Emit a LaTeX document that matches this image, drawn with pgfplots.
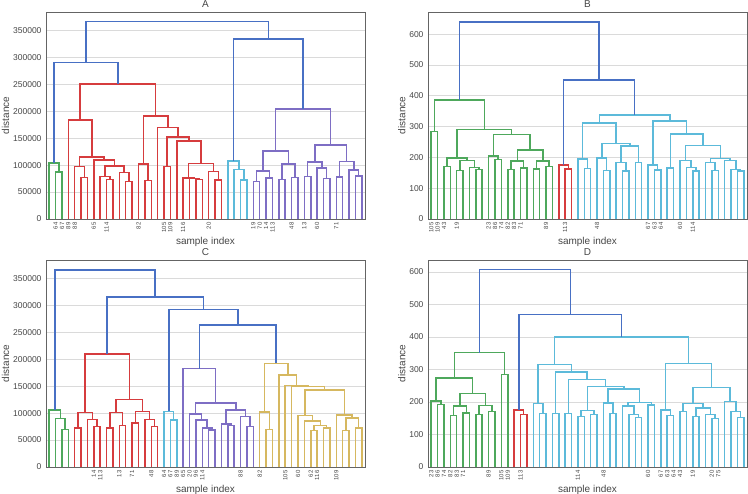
\documentclass[border=0pt]{standalone}
\usepackage{pgfplots}
\pgfplotsset{compat=1.18}
\usepackage{fontspec}
\setmainfont{Liberation Sans}
\definecolor{cblue}{RGB}{72,112,196}
\definecolor{cgreen}{RGB}{78,168,92}
\definecolor{cred}{RGB}{214,60,62}
\definecolor{ccyan}{RGB}{92,186,218}
\definecolor{cpurple}{RGB}{126,110,196}
\definecolor{cyellow}{RGB}{214,184,96}
\definecolor{gridgray}{RGB}{218,218,218}
\definecolor{framegray}{RGB}{100,100,100}
\definecolor{labgray}{RGB}{70,70,70}
\pgfplotsset{
 dendro/.style={
  scale only axis, width=319pt, height=207pt, anchor=south west,
  xmin=-0.5, xmax=49.5, ymin=0,
  xtick=\empty, minor xtick={0,...,49},
  grid=both, major grid style={color=gridgray, line width=0.7pt},
  minor grid style={color=gridgray, line width=0.7pt},
  major tick length=0pt, minor tick length=0pt, tick style={draw=none},
  scaled y ticks=false,
  axis line style={draw=framegray, line width=0.9pt},
  tick label style={font=\fontsize{8.5}{10}\selectfont, text=labgray},
  yticklabel style={xshift=-1pt},
  xlabel={sample index}, ylabel={distance},
  label style={font=\fontsize{10}{12}\selectfont, text=labgray},
  xlabel style={yshift=2pt},
  ylabel shift=-3pt,
  title style={font=\fontsize{10}{12}\selectfont, text=labgray, yshift=-2.5pt, inner sep=1pt},
  extra x tick style={grid=none, major tick length=0pt,
    tick label style={rotate=90, anchor=east, font=\fontsize{6}{7}\selectfont, text=labgray}},
  unbounded coords=jump,
  every axis plot/.append style={line width=1.5pt, mark=none},
 },
 bigy/.style={ymax=384000,
  ytick={0,50000,100000,150000,200000,250000,300000,350000},
  yticklabels={0,50000,100000,150000,200000,250000,300000,350000}},
 smally/.style={ytick={0,100,200,300,400,500,600},
  yticklabels={0,100,200,300,400,500,600}},
}
\begin{document}
\begin{tikzpicture}
\useasboundingbox (0,0) rectangle (748pt,494pt);
% ---------------- A ----------------
\begin{axis}[dendro, bigy, at={(46pt,275pt)}, title={A},
  extra x ticks={1,2,3,4,7,9,14,18,19,21,25,32,33,34,35,38,40,42,45},
  extra x tick labels={64,67,89,88,65,114,82,105,109,116,20,19,70,14,113,48,13,60,71}]
\addplot[cgreen] coordinates {
(1,0)(1,87000)(2,87000)(2,0)(0,nan)
(0,0)(0,104000)(1.5,104000)(1.5,87000)};
\addplot[cred] coordinates {
(5,0)(5,77000)(6,77000)(6,0)(0,nan)
(4,0)(4,97000)(5.5,97000)(5.5,77000)(0,nan)
(9,0)(9,73000)(10,73000)(10,0)(0,nan)
(8,0)(8,79000)(9.5,79000)(9.5,73000)(0,nan)
(12,0)(12,70000)(13,70000)(13,0)(0,nan)
(11,0)(11,86000)(12.5,86000)(12.5,70000)(0,nan)
(8.75,79000)(8.75,98000)(11.75,98000)(11.75,86000)(0,nan)
(7,0)(7,109000)(10.25,109000)(10.25,98000)(0,nan)
(4.75,97000)(4.75,115000)(8.625,115000)(8.625,109000)(0,nan)
(3,0)(3,184000)(6.6875,184000)(6.6875,115000)(0,nan)
(15,0)(15,71000)(16,71000)(16,0)(0,nan)
(14,0)(14,102000)(15.5,102000)(15.5,71000)(0,nan)
(18,0)(18,97000)(19,97000)(19,0)(0,nan)
(23,0)(23,73000)(24,73000)(24,0)(0,nan)
(22,0)(22,75000)(23.5,75000)(23.5,73000)(0,nan)
(21,0)(21,76000)(22.75,76000)(22.75,75000)(0,nan)
(26,0)(26,72000)(27,72000)(27,0)(0,nan)
(25,0)(25,88000)(26.5,88000)(26.5,72000)(0,nan)
(21.875,76000)(21.875,103000)(25.75,103000)(25.75,88000)(0,nan)
(20,0)(20,145000)(23.8125,145000)(23.8125,103000)(0,nan)
(18.5,97000)(18.5,152000)(21.906,152000)(21.906,145000)(0,nan)
(17,0)(17,170000)(20.203,170000)(20.203,152000)(0,nan)
(14.75,102000)(14.75,191000)(18.602,191000)(18.602,170000)(0,nan)
(4.844,184000)(4.844,250000)(16.676,250000)(16.676,191000)};
\addplot[ccyan] coordinates {
(30,0)(30,72000)(31,72000)(31,0)(0,nan)
(29,0)(29,92000)(30.5,92000)(30.5,72000)(0,nan)
(28,0)(28,108000)(29.75,108000)(29.75,92000)};
\addplot[cpurple] coordinates {
(32,0)(32,70000)(33,70000)(33,0)(0,nan)
(34,0)(34,76000)(35,76000)(35,0)(0,nan)
(32.5,70000)(32.5,89000)(34.5,89000)(34.5,76000)(0,nan)
(36,0)(36,73000)(37,73000)(37,0)(0,nan)
(38,0)(38,77000)(39,77000)(39,0)(0,nan)
(36.5,73000)(36.5,101600)(38.5,101600)(38.5,77000)(0,nan)
(33.5,89000)(33.5,126000)(37.5,126000)(37.5,101600)(0,nan)
(40,0)(40,78700)(41,78700)(41,0)(0,nan)
(43,0)(43,75000)(44,75000)(44,0)(0,nan)
(42,0)(42,95000)(43.5,95000)(43.5,75000)(0,nan)
(40.5,78700)(40.5,106000)(42.75,106000)(42.75,95000)(0,nan)
(45,0)(45,78000)(46,78000)(46,0)(0,nan)
(48,0)(48,80000)(49,80000)(49,0)(0,nan)
(47,0)(47,91000)(48.5,91000)(48.5,80000)(0,nan)
(45.5,78000)(45.5,107000)(47.75,107000)(47.75,91000)(0,nan)
(41.625,106000)(41.625,137500)(46.625,137500)(46.625,107000)(0,nan)
(35.5,126000)(35.5,203800)(44.125,203800)(44.125,137500)};
\addplot[cblue] coordinates {
(0.75,104000)(0.75,290000)(10.76,290000)(10.76,250000)(0,nan)
(28.875,108000)(28.875,334000)(39.8125,334000)(39.8125,203800)(0,nan)
(5.755,290000)(5.755,366000)(34.344,366000)(34.344,334000)};
\end{axis}
% ---------------- B ----------------
\begin{axis}[dendro, smally, ymax=672, at={(428pt,275pt)}, title={B},
  extra x ticks={0,1,2,4,9,10,11,12,13,14,18,21,26,34,35,36,39,41},
  extra x tick labels={105,109,43,19,23,86,74,82,83,71,89,113,48,67,63,64,60,114}]
\addplot[cgreen] coordinates {
(0,0)(0,284)(1,284)(1,0)(0,nan)
(2,0)(2,170)(3,170)(3,0)(0,nan)
(4,0)(4,157)(5,157)(5,0)(0,nan)
(7,0)(7,161)(8,161)(8,0)(0,nan)
(6,0)(6,167)(7.5,167)(7.5,161)(0,nan)
(4.5,157)(4.5,190)(6.75,190)(6.75,167)(0,nan)
(2.5,170)(2.5,198)(5.625,198)(5.625,190)(0,nan)
(10,0)(10,193)(11,193)(11,0)(0,nan)
(9,0)(9,204)(10.5,204)(10.5,193)(0,nan)
(12,0)(12,160)(13,160)(13,0)(0,nan)
(14,0)(14,166)(15,166)(15,0)(0,nan)
(12.5,160)(12.5,189)(14.5,189)(14.5,166)(0,nan)
(16,0)(16,163)(17,163)(17,0)(0,nan)
(18,0)(18,171)(19,171)(19,0)(0,nan)
(16.5,163)(16.5,188)(18.5,188)(18.5,171)(0,nan)
(13.5,189)(13.5,224)(17.5,224)(17.5,188)(0,nan)
(9.75,204)(9.75,275)(15.5,275)(15.5,224)(0,nan)
(4.0625,198)(4.0625,291)(12.625,291)(12.625,275)(0,nan)
(0.5,284)(0.5,387)(8.344,387)(8.344,291)};
\addplot[cred] coordinates {
(21,0)(21,162)(22,162)(22,0)(0,nan)
(20,0)(20,175)(21.5,175)(21.5,162)};
\addplot[ccyan] coordinates {
(24,0)(24,164)(25,164)(25,0)(0,nan)
(23,0)(23,195)(24.5,195)(24.5,164)(0,nan)
(27,0)(27,158)(28,158)(28,0)(0,nan)
(26,0)(26,198)(27.5,198)(27.5,158)(0,nan)
(30,0)(30,156)(31,156)(31,0)(0,nan)
(29,0)(29,183)(30.5,183)(30.5,156)(0,nan)
(32,0)(32,183)(33,183)(33,0)(0,nan)
(29.75,183)(29.75,237)(32.5,237)(32.5,183)(0,nan)
(26.75,198)(26.75,245)(31.125,245)(31.125,237)(0,nan)
(23.75,195)(23.75,311)(28.9375,311)(28.9375,245)(0,nan)
(35,0)(35,159)(36,159)(36,0)(0,nan)
(34,0)(34,176)(35.5,176)(35.5,159)(0,nan)
(37,0)(37,165)(38,165)(38,0)(0,nan)
(41,0)(41,156)(42,156)(42,0)(0,nan)
(40,0)(40,167)(41.5,167)(41.5,156)(0,nan)
(39,0)(39,190)(40.75,190)(40.75,167)(0,nan)
(44,0)(44,157)(45,157)(45,0)(0,nan)
(43,0)(43,184)(44.5,184)(44.5,157)(0,nan)
(48,0)(48,155)(49,155)(49,0)(0,nan)
(47,0)(47,161)(48.5,161)(48.5,155)(0,nan)
(46,0)(46,190)(47.75,190)(47.75,161)(0,nan)
(43.75,184)(43.75,197)(46.875,197)(46.875,190)(0,nan)
(39.875,190)(39.875,238)(45.3125,238)(45.3125,197)(0,nan)
(37.5,165)(37.5,276)(42.594,276)(42.594,238)(0,nan)
(34.75,176)(34.75,318)(40.047,318)(40.047,276)(0,nan)
(26.344,311)(26.344,337)(37.398,337)(37.398,318)};
\addplot[cblue] coordinates {
(20.75,175)(20.75,451)(31.871,451)(31.871,337)(0,nan)
(4.422,387)(4.422,640)(26.31,640)(26.31,451)};
\end{axis}
% ---------------- C ----------------
\begin{axis}[dendro, bigy, at={(46pt,27pt)}, title={C},
  extra x ticks={7,8,11,13,16,18,19,20,21,22,23,24,30,33,37,39,41,42,45},
  extra x tick labels={14,113,13,71,48,64,67,89,65,20,96,114,88,82,105,60,62,116,109}]
\addplot[cgreen] coordinates {
(2,0)(2,70000)(3,70000)(3,0)(0,nan)
(1,0)(1,90000)(2.5,90000)(2.5,70000)(0,nan)
(0,0)(0,106000)(1.75,106000)(1.75,90000)};
\addplot[cred] coordinates {
(4,0)(4,72000)(5,72000)(5,0)(0,nan)
(7,0)(7,75000)(8,75000)(8,0)(0,nan)
(6,0)(6,88000)(7.5,88000)(7.5,75000)(0,nan)
(4.5,72000)(4.5,101000)(6.75,101000)(6.75,88000)(0,nan)
(9,0)(9,72000)(10,72000)(10,0)(0,nan)
(11,0)(11,77000)(12,77000)(12,0)(0,nan)
(9.5,72000)(9.5,101400)(11.5,101400)(11.5,77000)(0,nan)
(13,0)(13,82000)(14,82000)(14,0)(0,nan)
(16,0)(16,75000)(17,75000)(17,0)(0,nan)
(15,0)(15,88000)(16.5,88000)(16.5,75000)(0,nan)
(13.5,82000)(13.5,102600)(15.75,102600)(15.75,88000)(0,nan)
(10.5,101400)(10.5,125500)(14.625,125500)(14.625,102600)(0,nan)
(5.625,101000)(5.625,210000)(12.5625,210000)(12.5625,125500)};
\addplot[ccyan] coordinates {
(19,0)(19,87000)(20,87000)(20,0)(0,nan)
(18,0)(18,103000)(19.5,103000)(19.5,87000)};
\addplot[cpurple] coordinates {
(25,0)(25,69000)(26,69000)(26,0)(0,nan)
(24,0)(24,72000)(25.5,72000)(25.5,69000)(0,nan)
(23,0)(23,87000)(24.75,87000)(24.75,72000)(0,nan)
(22,0)(22,98000)(23.875,98000)(23.875,87000)(0,nan)
(28,0)(28,77000)(29,77000)(29,0)(0,nan)
(27,0)(27,80000)(28.5,80000)(28.5,77000)(0,nan)
(31,0)(31,75000)(32,75000)(32,0)(0,nan)
(30,0)(30,94000)(31.5,94000)(31.5,75000)(0,nan)
(27.75,80000)(27.75,106000)(30.75,106000)(30.75,94000)(0,nan)
(22.9375,98000)(22.9375,119000)(29.25,119000)(29.25,106000)(0,nan)
(21,0)(21,182500)(26.094,182500)(26.094,119000)};
\addplot[cyellow] coordinates {
(34,0)(34,70000)(35,70000)(35,0)(0,nan)
(33,0)(33,102000)(34.5,102000)(34.5,70000)(0,nan)
(41,0)(41,68000)(42,68000)(42,0)(0,nan)
(43,0)(43,72000)(44,72000)(44,0)(0,nan)
(41.5,68000)(41.5,77000)(43.5,77000)(43.5,72000)(0,nan)
(40,0)(40,85000)(42.5,85000)(42.5,77000)(0,nan)
(39,0)(39,95500)(41.25,95500)(41.25,85000)(0,nan)
(46,0)(46,68000)(47,68000)(47,0)(0,nan)
(48,0)(48,72000)(49,72000)(49,0)(0,nan)
(46.5,68000)(46.5,91000)(48.5,91000)(48.5,72000)(0,nan)
(45,0)(45,96000)(47.5,96000)(47.5,91000)(0,nan)
(40.125,95500)(40.125,143000)(46.25,143000)(46.25,96000)(0,nan)
(38,0)(38,149000)(43.1875,149000)(43.1875,143000)(0,nan)
(37,0)(37,151000)(40.594,151000)(40.594,149000)(0,nan)
(36,0)(36,171000)(38.797,171000)(38.797,151000)(0,nan)
(33.75,102000)(33.75,192000)(37.398,192000)(37.398,171000)};
\addplot[cblue] coordinates {
(23.547,182500)(23.547,263000)(35.574,263000)(35.574,192000)(0,nan)
(18.75,103000)(18.75,292000)(29.56,292000)(29.56,263000)(0,nan)
(9.094,210000)(9.094,315000)(24.155,315000)(24.155,292000)(0,nan)
(0.875,106000)(0.875,365000)(16.62,365000)(16.62,315000)};
\end{axis}
% ---------------- D ----------------
\begin{axis}[dendro, smally, ymax=637, at={(428pt,27pt)}, title={D},
  extra x ticks={0,1,2,3,4,5,9,11,12,14,23,27,34,36,37,38,39,41,44,45},
  extra x tick labels={23,86,74,82,83,71,89,105,109,113,114,48,60,67,63,64,43,19,20,75}]
\addplot[cgreen] coordinates {
(1,0)(1,193)(2,193)(2,0)(0,nan)
(0,0)(0,203)(1.5,203)(1.5,193)(0,nan)
(3,0)(3,158)(4,158)(4,0)(0,nan)
(5,0)(5,166)(6,166)(6,0)(0,nan)
(3.5,158)(3.5,187)(5.5,187)(5.5,166)(0,nan)
(7,0)(7,162)(8,162)(8,0)(0,nan)
(9,0)(9,171)(10,171)(10,0)(0,nan)
(7.5,162)(7.5,189)(9.5,189)(9.5,171)(0,nan)
(4.5,187)(4.5,226)(8.5,226)(8.5,189)(0,nan)
(0.75,203)(0.75,274)(6.5,274)(6.5,226)(0,nan)
(11,0)(11,285)(12,285)(12,0)(0,nan)
(3.625,274)(3.625,352)(11.5,352)(11.5,285)};
\addplot[cred] coordinates {
(14,0)(14,161)(15,161)(15,0)(0,nan)
(13,0)(13,175)(14.5,175)(14.5,161)};
\addplot[ccyan] coordinates {
(17,0)(17,165)(18,165)(18,0)(0,nan)
(16,0)(16,195)(17.5,195)(17.5,165)(0,nan)
(19,0)(19,165)(20,165)(20,0)(0,nan)
(21,0)(21,165)(22,165)(22,0)(0,nan)
(23,0)(23,156)(24,156)(24,0)(0,nan)
(25,0)(25,161)(26,161)(26,0)(0,nan)
(23.5,156)(23.5,174)(25.5,174)(25.5,161)(0,nan)
(28,0)(28,164)(29,164)(29,0)(0,nan)
(27,0)(27,197)(28.5,197)(28.5,164)(0,nan)
(32,0)(32,152)(33,152)(33,0)(0,nan)
(31,0)(31,161)(32.5,161)(32.5,152)(0,nan)
(30,0)(30,187)(31.75,187)(31.75,161)(0,nan)
(34,0)(34,190)(35,190)(35,0)(0,nan)
(30.875,187)(30.875,199)(34.5,199)(34.5,190)(0,nan)
(27.75,197)(27.75,240)(32.6875,240)(32.6875,199)(0,nan)
(24.5,174)(24.5,248)(30.219,248)(30.219,240)(0,nan)
(21.5,165)(21.5,270)(27.359,270)(27.359,248)(0,nan)
(19.5,165)(19.5,293)(24.43,293)(24.43,270)(0,nan)
(16.75,195)(16.75,315)(21.965,315)(21.965,293)(0,nan)
(37,0)(37,159)(38,159)(38,0)(0,nan)
(36,0)(36,176)(37.5,176)(37.5,159)(0,nan)
(39,0)(39,170)(40,170)(40,0)(0,nan)
(41,0)(41,155)(42,155)(42,0)(0,nan)
(44,0)(44,149)(45,149)(45,0)(0,nan)
(43,0)(43,161)(44.5,161)(44.5,149)(0,nan)
(41.5,155)(41.5,181)(43.75,181)(43.75,161)(0,nan)
(39.5,170)(39.5,195)(42.625,195)(42.625,181)(0,nan)
(48,0)(48,152)(49,152)(49,0)(0,nan)
(47,0)(47,170)(48.5,170)(48.5,152)(0,nan)
(46,0)(46,202)(47.75,202)(47.75,170)(0,nan)
(41.0625,195)(41.0625,244)(46.875,244)(46.875,202)(0,nan)
(36.75,176)(36.75,318)(43.969,318)(43.969,244)(0,nan)
(19.358,315)(19.358,400)(40.36,400)(40.36,318)};
\addplot[cblue] coordinates {
(13.75,175)(13.75,470)(29.859,470)(29.859,400)(0,nan)
(7.5625,352)(7.5625,607)(21.805,607)(21.805,470)};
\end{axis}
\end{tikzpicture}
\end{document}
